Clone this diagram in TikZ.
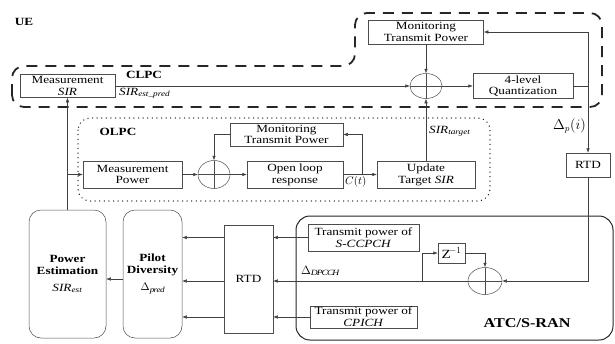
\documentclass[tikz,border=0pt]{standalone}
\usepackage{fontspec}
\setmainfont{Liberation Serif}[FakeStretch=1.2]
\usetikzlibrary{shapes.geometric,arrows.meta}
\newcommand{\myfs}{\fontsize{11}{11.8}\selectfont}
\newcommand{\mybf}{\fontsize{11}{13}\selectfont\bfseries}
\begin{document}
\begin{tikzpicture}[x=1pt,y=-1pt,
  box/.style={draw=black!70, line width=0.5pt, rectangle, inner sep=0pt, align=center, font=\myfs},
  rbox/.style={box, rounded corners=12pt},
  sum/.style={ellipse, draw=black!70, line width=0.5pt, minimum width=32pt, minimum height=25pt, inner sep=0pt,
    path picture={\draw[black!70,line width=0.5pt] (path picture bounding box.north) -- (path picture bounding box.south) (path picture bounding box.west) -- (path picture bounding box.east);}},
  arr/.style={-{Latex[length=4.5pt,width=3.5pt]}, line width=0.5pt, black!75},
  ln/.style={line width=0.5pt, black!75},
  clpc/.style={line width=1.8pt, dash pattern=on 11pt off 8pt, black!85, rounded corners=12pt},
  olpc/.style={line width=1.4pt, dash pattern=on 0.1pt off 4.5pt, line cap=round, black!85, rounded corners=12pt},
  atc/.style={line width=1pt, black!85, rounded corners=14pt},
  lbl/.style={font=\myfs, inner sep=0pt},
  title/.style={font=\mybf, inner sep=0pt}]
\useasboundingbox (0,0) rectangle (615,343);

% regions
\draw[clpc] (12,107) -- (12,66) -- (355,66) -- (355,13) -- (602,13) -- (602,107) -- cycle;
\draw[olpc] (78,118) rectangle (490,201);
\draw[atc] (296,216) rectangle (613,340);

% titles
\node[title] (ue) at (24,22) {UE};
\node[title] (tclpc) at (144,75) {CLPC};
\node[title] (tolpc) at (118,132) {OLPC};
\node[title, font=\fontsize{13.5}{14}\selectfont\bfseries] (tatc) at (527,323) {ATC/S-RAN};

% CLPC
\node[box, minimum width=95pt, minimum height=23pt] (msir) at (67.5,86) {Measurement\\\textit{SIR}};
\node[box, minimum width=115pt, minimum height=24pt] (mtp1) at (426,32) {Monitoring\\Transmit Power};
\node[sum] (sum1) at (426,86) {};
\node[box, minimum width=100pt, minimum height=25pt] (quant) at (523,86) {4-level\\Quantization};
\node[box, minimum width=44pt, minimum height=24pt] (rtd1) at (588,165) {RTD};

% OLPC
\node[box, minimum width=99pt, minimum height=27pt] (mpow) at (132.5,174.5) {Measurement\\Power};
\node[sum, minimum height=28pt] (sum2) at (214,174.5) {};
\node[box, minimum width=96pt, minimum height=27pt] (olr) at (295,174.5) {Open loop\\response};
\node[box, minimum width=113pt, minimum height=23pt] (mtp2) at (286.5,134.5) {Monitoring\\Transmit Power};
\node[box, minimum width=98pt, minimum height=27pt] (uts) at (426,174.5) {Update\\Target \textit{SIR}};

% ATC
\node[box, minimum width=111pt, minimum height=27pt] (sccpch) at (363.5,237.5) {Transmit power of\\\textit{S-CCPCH}};
\node[box, minimum width=107pt, minimum height=22pt] (cpich) at (363.5,317) {Transmit power of\\\textit{CPICH}};
\node[box, minimum width=27pt, minimum height=20pt, font=\fontsize{12.5}{12.5}\selectfont] (z) at (451.5,253) {$\mathrm{Z}^{-1}$};
\node[sum, minimum width=34pt, minimum height=27pt] (sum3) at (485,281) {};
\node[box, minimum width=49pt, minimum height=108pt] (rtd2) at (248.5,279) {RTD};
\node[rbox, minimum width=59pt, minimum height=128pt] (pd) at (152.5,274) {\textbf{Pilot}\\\textbf{Diversity}\\[5pt]$\Delta_{\mathit{pred}}$};
\node[rbox, minimum width=77pt, minimum height=128pt] (pe) at (67.5,274) {\textbf{Power}\\\textbf{Estimation}\\[5pt]\textit{SIR}\textsubscript{\textit{est}}};

% coordinates
\coordinate (q) at (588,86);
\coordinate (b) at (588,281);
\coordinate (j) at (422,281);
\coordinate (j2) at (422,253);
\coordinate (br) at (67.5,174.5);
\coordinate (ct) at (362,174.5);

% CLPC connectors
\draw[arr] (msir.east) -- (sum1.west);
\draw[arr] (sum1.east) -- (quant.west);
\draw[arr] (quant.east) -- (q) -- (q |- mtp1) -- (mtp1.east);
\draw[arr] (mtp1.south) -- (sum1.north);
\draw[arr] (q) -- (rtd1.north);
\draw[arr] (rtd1.south) -- (b) -- (sum3.east);
\draw[arr] (uts.north) -- (sum1.south);

% OLPC connectors
\draw[arr] (pe.north) -- (msir.south);
\draw[arr] (br) -- (mpow.west);
\draw[arr] (mpow.east) -- (sum2.west);
\draw[arr] (sum2.east) -- (olr.west);
\draw[arr] (mtp2.west) -- (sum2 |- mtp2) -- (sum2.north);
\draw[arr] (olr.east) -- (uts.west);
\draw[arr] (ct) -- (ct |- mtp2) -- (mtp2.east);

% ATC connectors
\draw[arr] (z.east) -- (sum3 |- z) -- (sum3.north);
\draw[arr] (sum3.west) -- (j) -- (j2) -- (z.west);
\draw[arr] (j) -- (rtd2.east |- j);
\draw[arr] (sccpch.west) -- (rtd2.east |- sccpch);
\draw[arr] (cpich.west) -- (rtd2.east |- cpich);
\draw[arr] (rtd2.west |- sccpch) -- (pd.east |- sccpch);
\draw[arr] (rtd2.west |- j) -- (pd.east |- j);
\draw[arr] (rtd2.west |- cpich) -- (pd.east |- cpich);
\draw[arr] (pd.west |- rtd2) -- (pe.east |- rtd2);

% labels
\node[lbl, anchor=west] (lsp) at (119,93) {\textit{SIR}\textsubscript{\textit{est\_pred}}};
\node[lbl, anchor=west] (lst) at (429,131) {\textit{SIR}\textsubscript{\textit{target}}};
\node[lbl, anchor=west] (lct) at (345,182) {$C(t)$};
\node[lbl, anchor=east, font=\fontsize{13.5}{13.5}\selectfont] (ldp) at (586,126) {$\Delta_p(i)$};
\node[lbl, anchor=west, font=\fontsize{12}{12}\selectfont] (ldd) at (301,271) {$\Delta_{\mathit{DPCCH}}$};
\end{tikzpicture}
\end{document}
